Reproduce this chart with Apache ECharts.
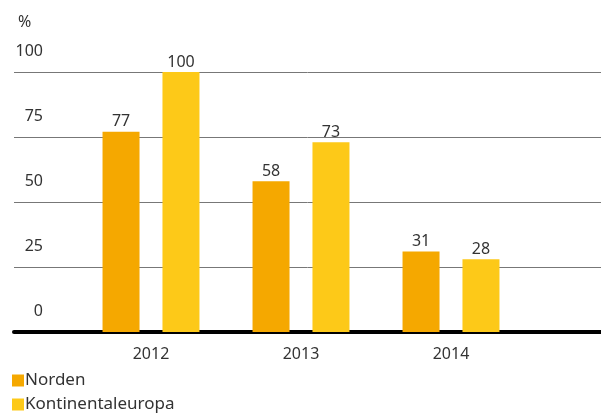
<!DOCTYPE html>
<html>
<head>
<meta charset="utf-8">
<script src="https://cdn.jsdelivr.net/npm/echarts@6/dist/echarts.min.js"></script>
<style>
  html, body { margin: 0; padding: 0; background: #fff; }
  #main { width: 601px; height: 414px; }
</style>
</head>
<body>
<div id="main"></div>
<script>
// data
var years = ['2012', '2013', '2014'];
var norden = [77, 58, 31];
var kontinental = [100, 73, 28];
var yTicks = [0, 25, 50, 75, 100];

var font = 'Noto Sans';
var txt = '#333';

function legendAt(name, top) {
    return {
        data: [name],
        left: 12,
        top: top,
        padding: 0,
        itemWidth: 12,
        itemHeight: 12,
        icon: 'rect',
        textStyle: { fontSize: 17, color: txt, fontFamily: font, padding: [0, 0, 0, -4] }
    };
}

var myChart = echarts.init(document.getElementById('main'));
var option = {
    animation: false,
    color: ['#f5a800', '#fdc918'],
    textStyle: { fontFamily: font },
    title: {
        text: '%',
        left: 13,
        top: 9,
        textStyle: { fontSize: 16, fontWeight: 'normal', color: txt, fontFamily: font }
    },
    legend: [
        legendAt('Norden', 372),
        legendAt('Kontinentaleuropa', 396)
    ],
    grid: [
        { left: 14, right: 0, top: 72, bottom: 82 },   // gridlines + baseline
        { left: 76, right: 75, top: 72, bottom: 82 }   // bars
    ],
    xAxis: [
        {
            gridIndex: 0,
            type: 'value',
            min: 0, max: 1,
            offset: 2,
            axisLine: { show: true, lineStyle: { color: '#000', width: 4 } },
            axisTick: { show: false },
            axisLabel: { show: false },
            splitLine: { show: false }
        },
        {
            gridIndex: 1,
            type: 'category',
            data: years,
            axisLine: { show: false },
            axisTick: { show: false },
            axisLabel: { margin: 14, fontSize: 16, color: txt, fontFamily: font }
        }
    ],
    yAxis: [
        {
            gridIndex: 0,
            type: 'value',
            min: 0, max: 100, interval: 25,
            axisLine: { show: false },
            axisTick: { show: false },
            axisLabel: {
                margin: -29,
                align: 'right',
                verticalAlign: 'bottom',
                padding: [0, 0, 13, 0],
                fontSize: 16,
                color: txt,
                fontFamily: font,
                formatter: function (v) { return yTicks.indexOf(v) >= 0 ? String(v) : ''; }
            },
            splitLine: { lineStyle: { color: '#777', width: 1 } }
        },
        {
            gridIndex: 1,
            type: 'value',
            min: 0, max: 100,
            show: false
        }
    ],
    series: [
        {
            name: 'Norden',
            type: 'bar',
            xAxisIndex: 1,
            yAxisIndex: 1,
            data: norden,
            barWidth: 37,
            barGap: '62%',
            label: { show: true, position: 'top', distance: 2, fontSize: 16, color: txt, fontFamily: font }
        },
        {
            name: 'Kontinentaleuropa',
            type: 'bar',
            xAxisIndex: 1,
            yAxisIndex: 1,
            data: kontinental,
            barWidth: 37,
            label: { show: true, position: 'top', distance: 2, fontSize: 16, color: txt, fontFamily: font }
        }
    ]
};
myChart.setOption(option);
</script>
</body>
</html>
